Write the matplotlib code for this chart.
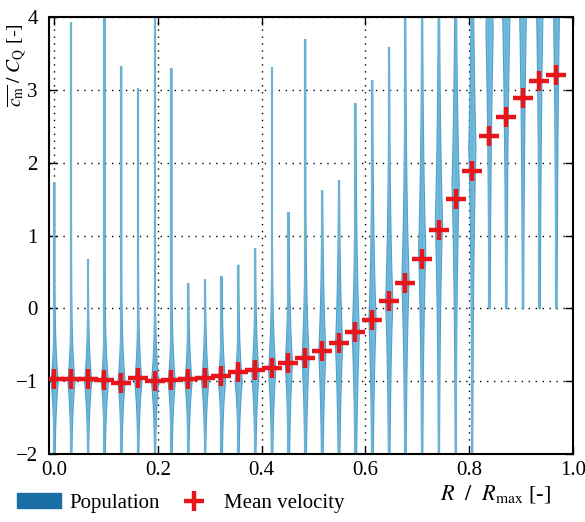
import numpy as np
import matplotlib
matplotlib.use('Agg')
import matplotlib.pyplot as plt
from matplotlib.patches import Patch
from matplotlib.lines import Line2D

plt.rcParams['font.family'] = ['Liberation Serif', 'DejaVu Serif']
plt.rcParams['mathtext.fontset'] = 'stix'

# radial bins R / Rmax
positions = np.arange(31) / 31

# mean velocity per bin (red crosses)
mean_vel = [-0.97, -0.97, -0.97, -0.98, -1.03, -0.96, -1.00, -0.99, -0.97, -0.96,
            -0.93, -0.88, -0.85, -0.82, -0.75, -0.68, -0.59, -0.48, -0.33, -0.16,
            0.10, 0.35, 0.68, 1.07, 1.50, 1.88, 2.36, 2.63, 2.89, 3.12, 3.21]

# population extent (min / max of the distribution)
pop_min = [-2.3] * 26 + [0.0] * 5
pop_max = [1.73, 3.93, 0.68, 4.5, 3.33, 3.03, 4.5, 3.30, 0.35, 0.40,
           0.44, 0.60, 0.83, 3.31, 1.32, 3.70, 1.62, 1.76, 2.82, 3.13,
           3.59, 6.0, 6.0, 6.0, 6.0, 6.0, 6.0, 6.0, 6.0, 6.0, 6.0]

# where each population is densest and how fast it falls off
pop_peak = [-1.0] * 12 + [-0.9, -0.85, -0.75, -0.68, -0.6, -0.5, -0.35, -0.15,
            0.1, 0.4, 0.8, 1.2, 1.7, 2.2, 3.8, 4.0, 4.2, 4.4, 4.6]
pop_spread = [0.5] * 12 + [0.6, 0.7, 0.8, 0.9, 1.0, 1.1, 1.2, 1.3,
              1.4, 1.5, 1.6, 1.7, 1.8, 1.9, 2.2, 2.3, 2.4, 2.5, 2.6]

fig = plt.figure(figsize=(5.85, 5.22), dpi=100)
ax = fig.add_axes([0.0838, 0.1303, 0.8952, 0.8371])

half_w = 0.007
for x, lo, hi, pk, sp in zip(positions, pop_min, pop_max, pop_peak, pop_spread):
    y = np.linspace(lo, hi, 400)
    w = half_w * np.exp(-np.abs(y - pk) / sp)
    ax.fill_betweenx(y, x - w, x + w, facecolor='#5fb2d9', edgecolor='#3a96c8',
                     linewidth=0.8, alpha=0.85, zorder=2)
    ax.vlines(x, lo, hi, color='#6cb2d3', linewidth=1.6, zorder=2)

ax.plot(positions, mean_vel, linestyle='none', marker='+', markersize=14,
        markeredgewidth=3.2, color='#e8161b', zorder=4)

ax.set_xlim(-0.01, 1.0)
ax.set_ylim(-2, 4)
ax.set_xticks([0.0, 0.2, 0.4, 0.6, 0.8, 1.0])
ax.set_xticklabels(['0.0', '0.2', '0.4', '0.6', '0.8', '1.0'])
ax.set_yticks([-2, -1, 0, 1, 2, 3, 4])
ax.grid(True, color='black', linestyle=(0, (1, 4)), linewidth=1.0)
ax.tick_params(direction='in', top=True, right=True, length=6, width=1,
               labelsize=15)
ax.tick_params(axis='x', pad=5)
ax.tick_params(axis='y', pad=8)
for s in ax.spines.values():
    s.set_linewidth(1.5)

ax.set_ylabel(r'$\overline{c_\mathrm{m}}\ /\ C_\mathrm{Q}$ [-]', fontsize=14)
ax.yaxis.set_label_coords(-0.04, 0.89)
ax.set_xlabel(r'$R\ \ /\ \ R_\mathrm{max}$ [-]', fontsize=16)
ax.xaxis.set_label_coords(0.853, -0.066)

handles = [Patch(facecolor='#1a6ea5', edgecolor='#1a6ea5'),
           Line2D([], [], linestyle='none', marker='+', markersize=14,
                  markeredgewidth=3.2, color='#e8161b')]
fig.legend(handles, ['Population', 'Mean velocity'], loc='center left',
           bbox_to_anchor=(-0.003, 0.036), ncol=2, frameon=False, fontsize=15,
           handlelength=2.1, handletextpad=0.4, columnspacing=0.6)

fig.savefig('out.png', dpi=100)
